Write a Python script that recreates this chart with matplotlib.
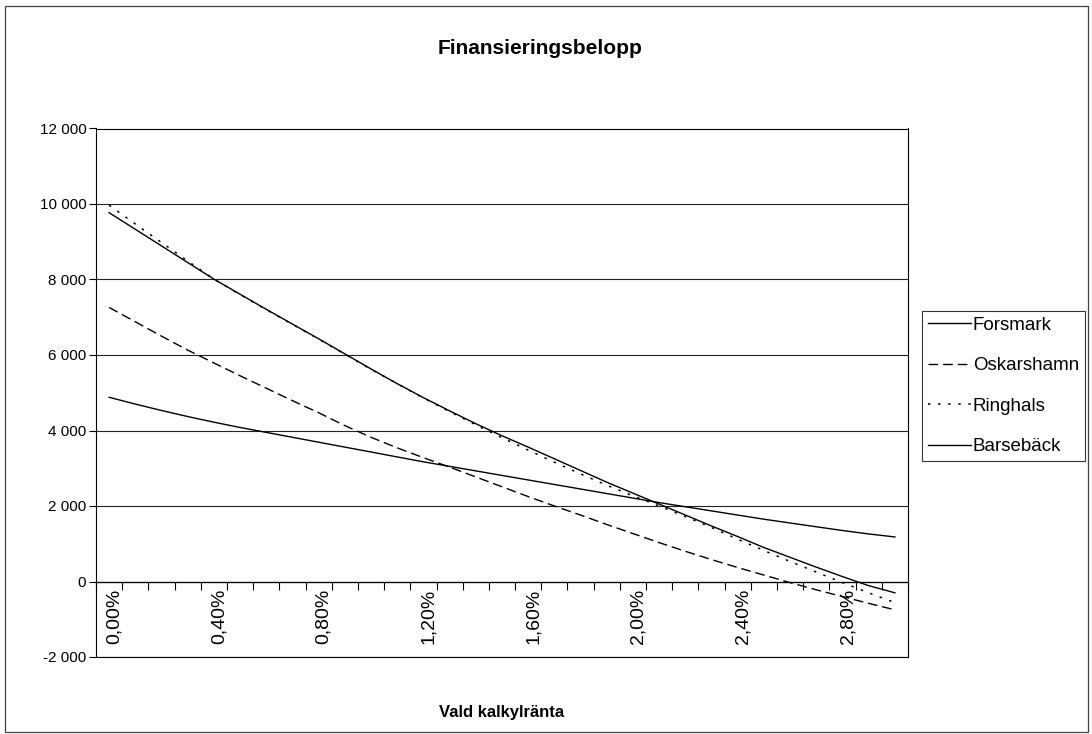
import matplotlib
matplotlib.use("Agg")
import matplotlib.pyplot as plt
import matplotlib.transforms as mtransforms
from matplotlib.patches import Rectangle
from matplotlib.ticker import FuncFormatter
import numpy as np

plt.rcParams["font.family"] = ["Liberation Sans", "DejaVu Sans"]

# Calculation rate categories (percent)
rates = [0.00, 0.10, 0.20, 0.30, 0.40, 0.50, 0.60, 0.70, 0.80, 0.90,
         1.00, 1.10, 1.20, 1.30, 1.40, 1.50, 1.60, 1.70, 1.80, 1.90,
         2.00, 2.10, 2.20, 2.30, 2.40, 2.50, 2.60, 2.70, 2.80, 2.90, 3.00]

forsmark = [9770, 9330, 8890, 8450, 8010, 7610, 7210, 6820, 6430, 6030,
            5630, 5240, 4870, 4520, 4180, 3860, 3560, 3250, 2940, 2630,
            2340, 2050, 1760, 1470, 1190, 900, 640, 380, 130, -110, -300]
oskarshamn = [7260, 6880, 6500, 6130, 5790, 5450, 5120, 4790, 4470, 4130,
              3820, 3540, 3280, 3030, 2770, 2510, 2250, 2000, 1760, 1510,
              1270, 1030, 800, 580, 370, 170, -30, -220, -400, -580, -750]
ringhals = [9970, 9470, 8980, 8490, 8010, 7600, 7200, 6810, 6420, 6020,
            5620, 5240, 4860, 4500, 4150, 3810, 3480, 3160, 2850, 2550,
            2270, 2000, 1720, 1430, 1120, 820, 530, 250, -30, -300, -560]
barseback = [4880, 4700, 4530, 4370, 4220, 4080, 3950, 3820, 3690, 3560,
             3430, 3300, 3170, 3050, 2930, 2810, 2690, 2570, 2450, 2330,
             2210, 2090, 1980, 1870, 1760, 1650, 1550, 1450, 1350, 1260, 1180]

labels = ["Forsmark", "Oskarshamn", "Ringhals", "Barsebäck"]

W, H = 1092, 734
fig = plt.figure(figsize=(W / 100, H / 100), dpi=100)
fig.patch.set_facecolor("white")

# outer chart frame
fig.add_artist(Rectangle((5 / W, 2 / H), (1088 - 5) / W, (728 - 2) / H,
                         transform=fig.transFigure, fill=False,
                         edgecolor="#444444", linewidth=0.9))

ax = fig.add_axes([96 / W, 1 - 657 / H, (908 - 96) / W, (657 - 128.5) / H])

x = np.arange(len(rates))
ax.plot(x, forsmark, color="black", lw=1.0, label=labels[0])
ax.plot(x, oskarshamn, color="black", lw=1.0, dashes=(7, 3.5), label=labels[1])
ax.plot(x, ringhals, color="black", lw=1.1, dashes=(1.6, 5), label=labels[2])
ax.plot(x, barseback, color="black", lw=1.0, label=labels[3])

ax.set_xlim(-0.5, len(rates) - 0.5)
ax.set_ylim(-2000, 12000)
ax.set_yticks(np.arange(-2000, 12001, 2000))
ax.yaxis.set_major_formatter(FuncFormatter(lambda v, p: f"{int(v):,}".replace(",", " ")))
ax.yaxis.grid(True, color="#222222", lw=0.8)
ax.set_axisbelow(True)
ax.tick_params(axis="y", direction="out", length=5, width=0.8, labelsize=11, pad=2)

# category axis sits on the zero line, frame closes the plot area
for s in ("left", "top", "right"):
    ax.spines[s].set_linewidth(0.8)
ax.spines["bottom"].set_position(("data", 0))
ax.spines["bottom"].set_linewidth(0.9)
ax.plot([0, 1], [0, 0], transform=ax.transAxes, color="black", lw=0.8, clip_on=False)

ax.set_xticks(np.arange(-0.5, len(rates), 1))
ax.set_xticklabels([])
ax.tick_params(axis="x", which="major", direction="out", length=6, width=0.8)
label_idx = x[::4]
ax.set_xticks(label_idx, [f"{rates[i]:.2f}%".replace(".", ",") for i in label_idx], minor=True)
ax.tick_params(axis="x", which="minor", length=0, pad=5, labelsize=14, labelrotation=90)
shift = mtransforms.ScaledTranslation(5 / 100, 0, fig.dpi_scale_trans)
for t in ax.get_xticklabels(minor=True):
    t.set_verticalalignment("top")
    t.set_transform(t.get_transform() + shift)

fig.text(540 / W, 1 - 48 / H, "Finansieringsbelopp", ha="center", va="center",
         fontsize=15, fontweight="bold")
fig.text(502 / W, 1 - 712 / H, "Vald kalkylränta", ha="center", va="center",
         fontsize=12, fontweight="bold")

leg = fig.legend(loc="upper left", bbox_to_anchor=(922 / W, 1 - 311 / H),
                 bbox_transform=fig.transFigure, fontsize=13.5, frameon=True,
                 fancybox=False, edgecolor="black", handlelength=2.3,
                 handletextpad=0.1, labelspacing=1.25, borderpad=0.3,
                 borderaxespad=0)
leg.get_frame().set_linewidth(0.8)

fig.savefig("out.png", dpi=100, facecolor="white")
